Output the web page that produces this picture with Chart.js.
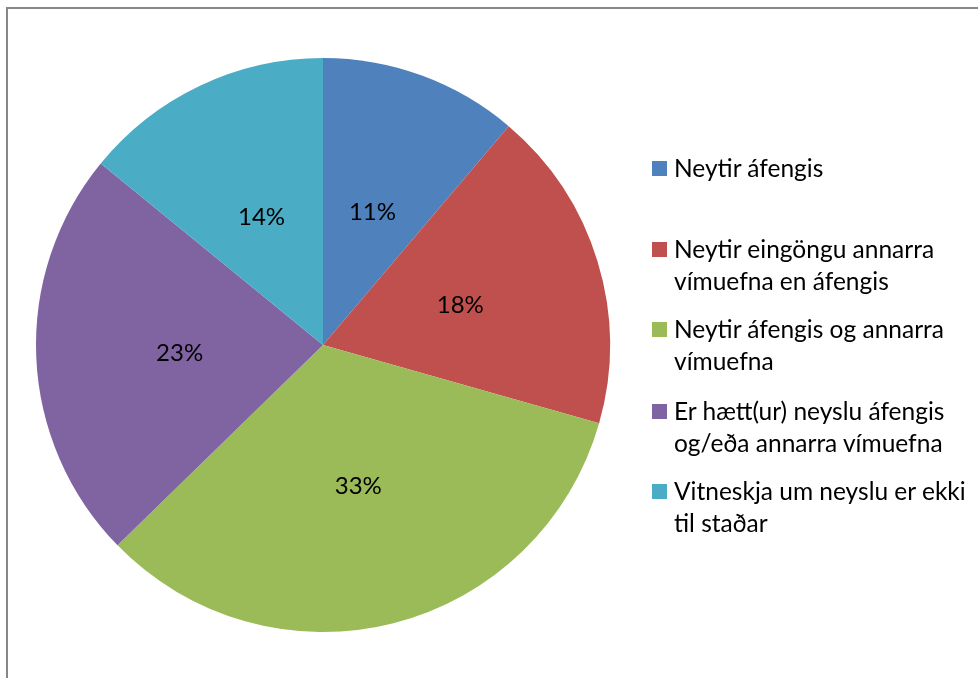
<!DOCTYPE html>
<html>
<head>
<meta charset="utf-8">
<script src="https://cdn.jsdelivr.net/npm/chart.js@4/dist/chart.umd.min.js"></script>
<style>
  html, body { margin: 0; padding: 0; background: #fff; }
  #wrap { position: relative; width: 978px; height: 678px; overflow: hidden; }
  #frame { position: absolute; left: 6px; top: 7px; width: 1100px; height: 800px; border-left: 2px solid #878787; border-top: 2px solid #878787; box-sizing: border-box; }
  canvas { position: absolute; left: 0; top: 0; }
  #legend { position: absolute; left: 652px; top: 0; font-family: Lato, "Noto Sans", sans-serif; font-size: 24.5px; color: #000; }
  .item { position: absolute; left: 0; white-space: nowrap; }
  .sw { position: absolute; left: 0; width: 15px; height: 15px; }
  .txt { position: absolute; left: 22px; line-height: 32px; }
</style>
</head>
<body>
<div id="wrap">
  <div id="frame"></div>
  <canvas id="c" width="978" height="678"></canvas>
  <div id="legend"></div>
</div>
<script>
const categories = [
  "Neytir áfengis",
  "Neytir eingöngu annarra vímuefna en áfengis",
  "Neytir áfengis og annarra vímuefna",
  "Er hætt(ur) neyslu áfengis og/eða annarra vímuefna",
  "Vitneskja um neyslu er ekki til staðar"
];
const legendLines = [
  ["Neytir áfengis"],
  ["Neytir eingöngu annarra", "vímuefna en áfengis"],
  ["Neytir áfengis og annarra", "vímuefna"],
  ["Er hætt(ur) neyslu áfengis", "og/eða annarra vímuefna"],
  ["Vitneskja um neyslu er ekki", "til staðar"]
];
const values = [11.2, 18.2, 33.3, 23.2, 14.1];
const percentLabels = ["11%", "18%", "33%", "23%", "14%"];
const colors = ["#4F81BD", "#C0504D", "#9BBB59", "#8064A2", "#4BACC6"];

// legend (HTML)
const legendTops = [152, 233, 313, 395, 475];
const lg = document.getElementById('legend');
legendLines.forEach((lines, i) => {
  const it = document.createElement('div');
  it.className = 'item';
  it.style.top = legendTops[i] + 'px';
  const sw = document.createElement('div');
  sw.className = 'sw';
  sw.style.background = colors[i];
  sw.style.top = '9px';
  const tx = document.createElement('div');
  tx.className = 'txt';
  tx.innerHTML = lines.join('<br>');
  it.appendChild(sw); it.appendChild(tx);
  lg.appendChild(it);
});

const labelPlugin = {
  id: 'pctLabels',
  afterDatasetsDraw(chart) {
    const ctx = chart.ctx;
    const meta = chart.getDatasetMeta(0);
    ctx.save();
    ctx.font = '24px Lato, "Noto Sans", sans-serif';
    ctx.fillStyle = '#000';
    ctx.textAlign = 'center';
    ctx.textBaseline = 'middle';
    meta.data.forEach((arc, i) => {
      const p = arc.tooltipPosition();
      ctx.fillText(percentLabels[i], p.x, p.y + 2);
    });
    ctx.restore();
  }
};

new Chart(document.getElementById('c'), {
  type: 'pie',
  data: {
    labels: categories,
    datasets: [{
      data: values,
      backgroundColor: colors,
      borderWidth: 0
    }]
  },
  options: {
    responsive: false,
    animation: false,
    layout: { padding: { left: 36, top: 58, right: 368, bottom: 46 } },
    plugins: { legend: { display: false }, tooltip: { enabled: false } }
  },
  plugins: [labelPlugin]
});
</script>
</body>
</html>
